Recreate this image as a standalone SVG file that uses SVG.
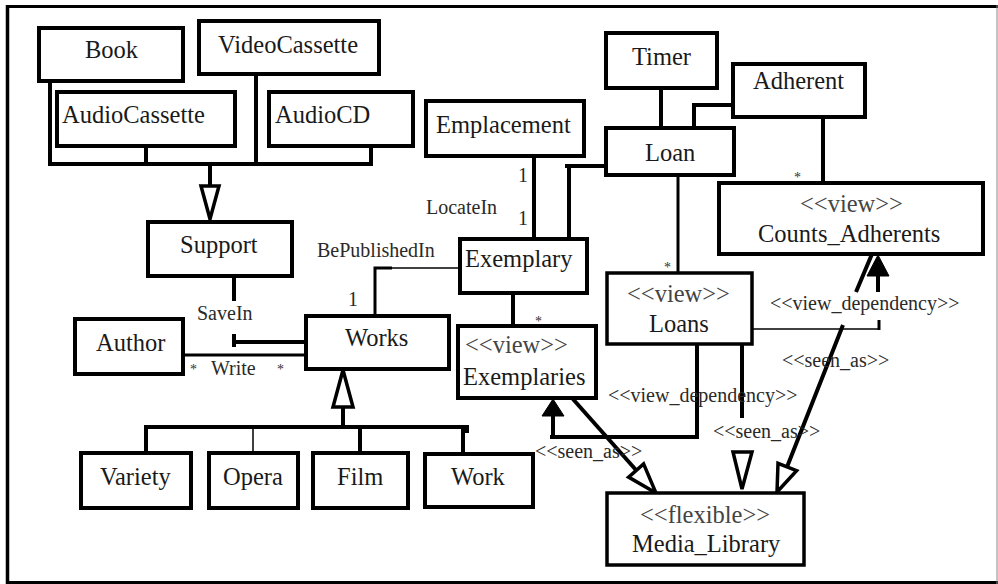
<svg xmlns="http://www.w3.org/2000/svg" width="998" height="584" viewBox="0 0 998 584" font-family="'Liberation Serif', 'DejaVu Serif', serif">
  <style>
    .box { fill: #fff; stroke: #000; stroke-width: 4; }
    .box2 { fill: #fff; stroke: #000; stroke-width: 3.5; }
    text { font-family: 'Liberation Serif', 'DejaVu Serif', serif; }
    .name { font-size: 24.5px; fill: #1a1a1a; }
    .stereo { font-size: 24.5px; fill: #444; }
    .lbl { font-size: 20px; fill: #2a2a2a; }
    .mult { font-size: 14px; fill: #333; }
    .thick { fill: none; stroke: #000; stroke-width: 4; }
    .med { fill: none; stroke: #000; stroke-width: 3; }
    .thin { fill: none; stroke: #000; stroke-width: 1.5; }
    .hollow { fill: #fff; stroke: #000; stroke-width: 3.5; stroke-linejoin: miter; }
    .solid { fill: #000; stroke: #000; stroke-width: 1; }
  </style>

  <!-- page frame -->
  <g id="frame">
    <rect x="0" y="0" width="998" height="584" fill="#fff"/>
    <line x1="7.5" y1="5" x2="7.5" y2="584" stroke="#000" stroke-width="3.5"/>
    <line x1="6" y1="6.5" x2="998" y2="6.5" stroke="#000" stroke-width="3"/>
    <line x1="6" y1="582.5" x2="998" y2="582.5" stroke="#000" stroke-width="3"/>
    <line x1="997" y1="5" x2="997" y2="584" stroke="#888" stroke-width="1"/>
  </g>

  <!-- connectors -->
  <g id="connectors">
    <!-- media types generalise to Support -->
    <path class="thick" d="M50,81 V164 H371 V143"/>
    <path class="thick" d="M146,146 V164"/>
    <path class="thick" d="M256,74 V164"/>
    <path class="thick" d="M210,164 V186"/>
    <polygon class="hollow" points="201,186 219,186 210,219"/>

    <!-- SaveIn -->
    <path class="thick" d="M234,276 V301"/>
    <path class="thick" d="M234,334 V347 M234,342 H306"/>

    <!-- Write -->
    <path class="med" d="M183,355 H306"/>

    <!-- BePublishedIn -->
    <path class="med" d="M375,316 V268 H392"/>
    <path class="thin" d="M390,268 H460"/>

    <!-- Works subtypes -->
    <path class="thick" d="M343,408 V427"/>
    <polygon class="hollow" points="343,370 333,407 353,407"/>
    <path class="thick" d="M146,453 V427 H467 V433"/>
    <path class="thin" d="M253,427 V453"/>
    <path class="thick" d="M360,427 V453"/>
    <path class="thick" d="M463,427 V453"/>

    <!-- LocateIn -->
    <path class="thick" d="M534,156 V239"/>

    <!-- Loan to Exemplary -->
    <path class="thick" d="M606,166 H565 M569,166 V239"/>

    <!-- Timer / Adherent to Loan -->
    <path class="thick" d="M661,88 V128"/>
    <path class="thick" d="M733,105 H694 V128"/>

    <!-- Adherent to Counts_Adherents -->
    <path class="thick" d="M823,117 V183"/>

    <!-- Loan to Loans -->
    <path class="med" d="M678,175 V273"/>

    <!-- Exemplary to Exemplaries -->
    <path class="thick" d="M513,293 V326"/>

    <!-- Loans view_dependency to Exemplaries -->
    <path class="thick" d="M697,344 V437 H550"/>
    <path class="thick" d="M553,437 V415"/>
    <polygon class="solid" points="553,399 542,416 564,416"/>

    <!-- Loans view_dependency to Counts_Adherents -->
    <path class="thin" d="M752,329 H879"/>
    <path class="med" d="M879,330 V320"/>
    <path class="thick" d="M878,292 V275"/>
    <polygon class="solid" points="878,255 867,276 889,276"/>

    <!-- Exemplaries seen_as Media_Library -->
    <path class="thick" d="M572,398 L636,470"/>
    <polygon class="hollow" points="656,493 628.6,477.1 643.6,463.9"/>

    <!-- Loans seen_as Media_Library -->
    <path class="thick" d="M742,344 V418"/>
    <polygon class="hollow" points="733,452 752,452 742,489"/>

    <!-- Counts_Adherents seen_as Media_Library -->
    <path class="thick" d="M872,254 L856,292 M843,325 L787,467"/>
    <polygon class="hollow" points="777,492 796.6,470.7 778,463.3"/>
  </g>

  <!-- association and dependency labels -->
  <g id="labels">
    <text class="lbl" x="197" y="320">SaveIn</text>
    <text class="mult" x="190" y="374">*</text>
    <text class="lbl" x="211" y="375">Write</text>
    <text class="mult" x="277" y="374">*</text>
    <text class="lbl" x="317" y="257">BePublishedIn</text>
    <text class="lbl" x="348" y="306">1</text>
    <text class="lbl" x="426" y="214">LocateIn</text>
    <text class="lbl" x="518" y="182">1</text>
    <text class="lbl" x="518" y="225">1</text>
    <text class="mult" x="794" y="182">*</text>
    <text class="mult" x="664" y="272">*</text>
    <text class="mult" x="535" y="326">*</text>
    <text class="lbl" x="770" y="310">&lt;&lt;view_dependency&gt;&gt;</text>
    <text class="lbl" x="608" y="402">&lt;&lt;view_dependency&gt;&gt;</text>
    <text class="lbl" x="782" y="367">&lt;&lt;seen_as&gt;&gt;</text>
    <text class="lbl" x="713" y="438">&lt;&lt;seen_as&gt;&gt;</text>
    <text class="lbl" x="535" y="458">&lt;&lt;seen_as&gt;&gt;</text>
  </g>

  <!-- classes -->
  <g id="Book"><rect class="box" x="39" y="28" width="144" height="53"/><text class="name" x="85" y="58">Book</text></g>
  <g id="VideoCassette"><rect class="box" x="199" y="21" width="180" height="53"/><text class="name" x="218" y="53">VideoCassette</text></g>
  <g id="AudioCassette"><rect class="box" x="57" y="92" width="178" height="54"/><text class="name" x="62" y="123">AudioCassette</text></g>
  <g id="AudioCD"><rect class="box" x="269" y="92" width="144" height="54"/><text class="name" x="275" y="123">AudioCD</text></g>
  <g id="Support"><rect class="box" x="148" y="222" width="144" height="54"/><text class="name" x="180" y="253">Support</text></g>
  <g id="Author"><rect class="box" x="75" y="319" width="108" height="55"/><text class="name" x="96" y="351">Author</text></g>
  <g id="Works"><rect class="box" x="306" y="316" width="143" height="53"/><text class="name" x="345" y="346">Works</text></g>
  <g id="Variety"><rect class="box" x="81" y="453" width="110" height="55"/><text class="name" x="100" y="485">Variety</text></g>
  <g id="Opera"><rect class="box" x="209" y="453" width="89" height="55"/><text class="name" x="223" y="485">Opera</text></g>
  <g id="Film"><rect class="box" x="313" y="453" width="95" height="55"/><text class="name" x="337" y="485">Film</text></g>
  <g id="Work"><rect class="box" x="425" y="454" width="108" height="53"/><text class="name" x="451" y="485">Work</text></g>
  <g id="Emplacement"><rect class="box" x="426" y="101" width="158" height="55"/><text class="name" x="436" y="133">Emplacement</text></g>
  <g id="Timer"><rect class="box" x="606" y="33" width="111" height="55"/><text class="name" x="632" y="65">Timer</text></g>
  <g id="Adherent"><rect class="box" x="733" y="64" width="132" height="53"/><text class="name" x="753" y="89">Adherent</text></g>
  <g id="Loan"><rect class="box" x="606" y="128" width="128" height="47"/><text class="name" x="645" y="161">Loan</text></g>
  <g id="Exemplary"><rect class="box" x="460" y="239" width="127" height="54"/><text class="name" x="465" y="267">Exemplary</text></g>
  <g id="Counts_Adherents"><rect class="box" x="719" y="183" width="264" height="71"/><text class="stereo" x="800" y="212">&lt;&lt;view&gt;&gt;</text><text class="name" x="758" y="242">Counts_Adherents</text></g>
  <g id="Loans"><rect class="box2" x="607" y="273" width="145" height="71"/><text class="stereo" x="627" y="302">&lt;&lt;view&gt;&gt;</text><text class="name" x="649" y="332">Loans</text></g>
  <g id="Exemplaries"><rect class="box" x="458" y="326" width="138" height="72"/><text class="stereo" x="465" y="353">&lt;&lt;view&gt;&gt;</text><text class="name" x="463" y="385">Exemplaries</text></g>
  <g id="Media_Library"><rect class="box2" x="607" y="493" width="197" height="72"/><text class="stereo" x="640" y="523">&lt;&lt;flexible&gt;&gt;</text><text class="name" x="632" y="552">Media_Library</text></g>
</svg>
